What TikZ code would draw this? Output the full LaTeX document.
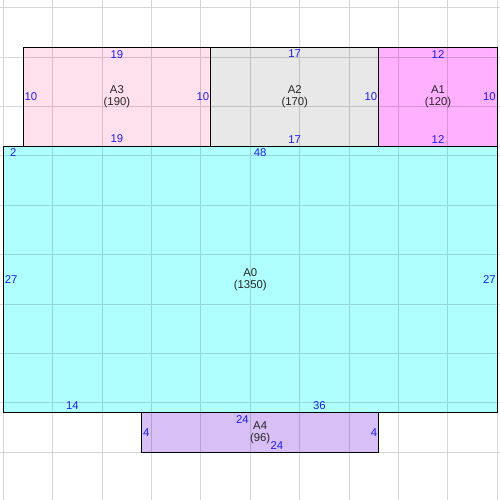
\documentclass[tikz,border=0pt]{standalone}
\usepackage{fontspec}
\setmainfont{Liberation Sans}
\usetikzlibrary{positioning}
\newcommand{\un}{7.41pt}
\definecolor{dimblue}{RGB}{30,30,245}
\definecolor{fillzero}{RGB}{176,255,255}
\definecolor{fillone}{RGB}{255,176,255}
\definecolor{filltwo}{RGB}{232,232,232}
\definecolor{fillthree}{RGB}{255,224,236}
\definecolor{fillfour}{RGB}{216,192,246}

\begin{document}
\begin{tikzpicture}[
          x=\un, y=\un,
          room/.style 2 args={rectangle, draw, line width=0.75pt, outer sep=0pt, inner sep=0pt, minimum width=#1*\un, minimum height=#2*\un, align=center, font=\fontsize{8.5}{9}\selectfont, text=black!85},
          dim/.style={text=dimblue, inner sep=1pt, font=\fontsize{8.5}{10}\selectfont},
          gridline/.style={black, opacity=0.16, line width=0.75pt}
        ]
          \clip (-0.334,-35.83) rectangle (50.27,14.78);
          \fill[white] (-0.334,-35.83) rectangle (50.27,14.78);

          % rooms
          \node[room={50}{27}, fill=fillzero] (a0) at (25,-13.5) {A0\\(1350)};
          \node[room={19}{10}, fill=fillthree, above right=0pt and 2*\un of a0.north west] (a3) {A3\\(190)};
          \node[room={17}{10}, fill=filltwo, right=0pt of a3] (a2) {A2\\(170)};
          \node[room={12}{10}, fill=fillone, right=0pt of a2] (a1) {A1\\(120)};
          \node[room={24}{4}, fill=fillfour, below right=0pt and 14*\un of a0.south west] (a4) {A4\\(96)};

          % grid
          \draw[gridline, shift={(0,-1)}] (-5,-40) grid[step=5] (55,20);

          % sides of A3
          \node[dim, below=1pt of a3.north] {19};
          \node[dim, above=1pt of a3.south] {19};
          \node[dim, right=0pt of a3.west] {10};
          \node[dim, left=0pt of a3.east] {10};
          % sides of A2
          \node[dim, below=1pt of a2.north] {17};
          \node[dim, above=1pt of a2.south] {17};
          \node[dim, left=0pt of a2.east] {10};
          % sides of A1
          \node[dim, below=1pt of a1.north] {12};
          \node[dim, above=1pt of a1.south] {12};
          \node[dim, left=0pt of a1.east] {10};
          % sides of A0
          \node[dim, below=1pt of a0.north west, xshift=1*\un] {2};
          \node[dim, below=1pt of a0.north, xshift=1*\un] {48};
          \node[dim, right=0pt of a0.west] {27};
          \node[dim, left=0pt of a0.east] {27};
          \node[dim, above=1pt of a0.south west, xshift=7*\un] {14};
          \node[dim, above=1pt of a0.south, xshift=7*\un] {36};
          % sides of A4
          \node[dim, below=1pt of a4.north, xshift=-1.8*\un] {24};
          \node[dim, above=1pt of a4.south, xshift=1.7*\un] {24};
          \node[dim, right=0pt of a4.west] {4};
          \node[dim, left=0pt of a4.east] {4};
        \end{tikzpicture}
\end{document}
